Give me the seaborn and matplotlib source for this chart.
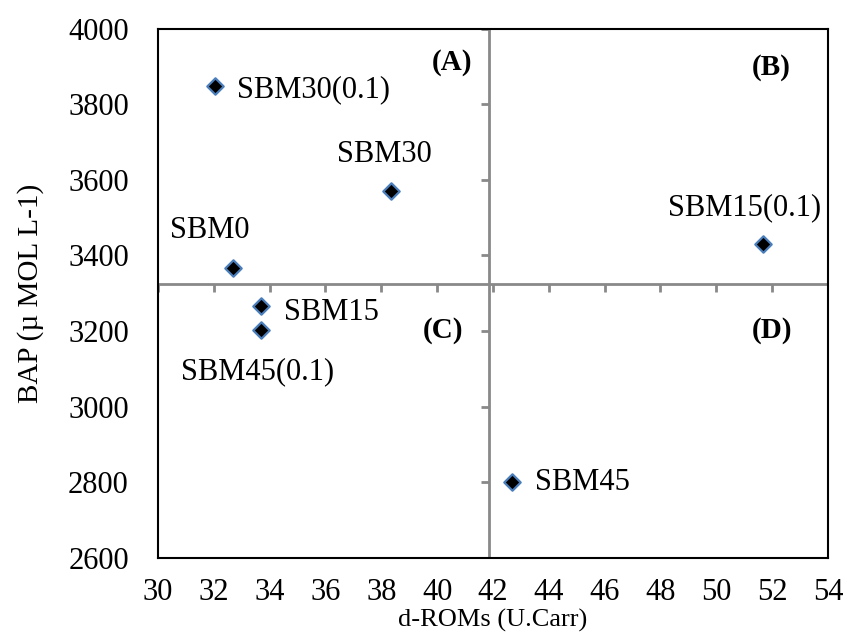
import matplotlib
matplotlib.use("Agg")
import matplotlib.pyplot as plt
import seaborn as sns
import pandas as pd

# Sample values
labels = ["SBM0", "SBM15", "SBM30", "SBM45", "SBM15(0.1)", "SBM30(0.1)", "SBM45(0.1)"]
d_roms = [32.67, 33.68, 38.35, 42.68, 51.67, 32.04, 33.68]
bap = [3368, 3266, 3571, 2800, 3430, 3849, 3203]

# Label offsets (points) relative to each marker, and alignment
label_offsets = [(-16.5, 27), (16.5, -4.5), (-5, 26), (16.5, 0), (-13, 26.5), (16, -3), (-2, -30)]
label_ha = ["center", "left", "center", "left", "center", "left", "center"]

# Quadrant split
x_split = 41.85
y_split = 3325

x_ticks = list(range(30, 56, 2))
y_ticks = list(range(2600, 4001, 200))

quadrants = ["(A)", "(B)", "(C)", "(D)"]
quadrant_pos = [(0.439, 0.936), (0.916, 0.928), (0.425, 0.429), (0.916, 0.429)]

df = pd.DataFrame({"d_roms": d_roms, "bap": bap, "label": labels})

sns.set_style("white")
plt.rcParams["font.family"] = ["Liberation Serif", "DejaVu Serif"]
plt.rcParams["text.color"] = "black"
plt.rcParams["axes.labelcolor"] = "black"
plt.rcParams["xtick.color"] = "black"
plt.rcParams["ytick.color"] = "black"

fig = plt.figure(figsize=(8.48, 6.4), dpi=100)
ax = fig.add_axes([0.1863, 0.1289, 0.79, 0.8258])

grey = "#898989"
ax.axvline(x_split, color=grey, lw=2, zorder=1)
ax.axhline(y_split, color=grey, lw=2, zorder=1)
# tick marks hanging off the quadrant lines
ax.plot(x_ticks, [y_split] * len(x_ticks), ls="none", marker=3, ms=6, mew=2, color=grey, zorder=1)
ax.plot([x_split] * len(y_ticks), y_ticks, ls="none", marker=0, ms=6, mew=2, color=grey, zorder=1)

sns.scatterplot(data=df, x="d_roms", y="bap", marker="D", s=70, color="black",
                edgecolor="#4a7ebb", linewidth=1.6, ax=ax, zorder=3, legend=False)

for lab, x, y, off, ha in zip(labels, d_roms, bap, label_offsets, label_ha):
    ax.annotate(lab, (x, y), xytext=off, textcoords="offset points",
                ha=ha, va="center", fontsize=22, color="black")

for q, (qx, qy) in zip(quadrants, quadrant_pos):
    ax.text(qx, qy, q, transform=ax.transAxes, ha="center", va="center",
            fontsize=21, fontweight="bold", color="black")

ax.set_xlim(30, 54)
ax.set_ylim(2600, 4000)
ax.set_xticks(x_ticks)
ax.set_yticks(y_ticks)
ax.tick_params(axis="both", length=0, labelsize=22, labelcolor="black")
ax.tick_params(axis="x", pad=15)
ax.tick_params(axis="y", pad=21)
for s in ax.spines.values():
    s.set_color("black")
    s.set_linewidth(1.5)

ax.set_xlabel("d-ROMs (U.Carr)", fontsize=19, labelpad=1)
ax.set_ylabel("BAP (\u00b5 MOL L-1)", fontsize=21, labelpad=17)

fig.savefig("out.png", dpi=100)
